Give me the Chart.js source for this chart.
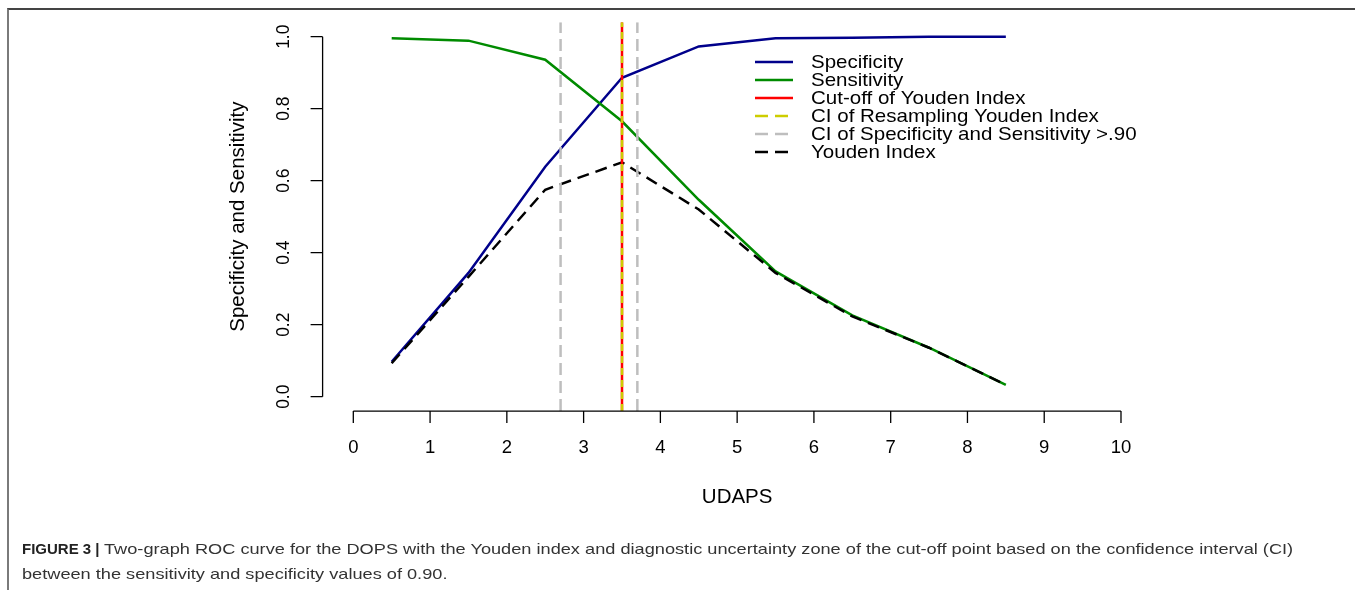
<!DOCTYPE html>
<html>
<head>
<meta charset="utf-8">
<script src="https://cdn.jsdelivr.net/npm/chart.js@4"></script>
<style>
  html, body { margin: 0; padding: 0; background: #fff; }
  #wrap { position: relative; width: 1355px; height: 590px; overflow: hidden; }
  #frame { position: absolute; left: 7px; top: 8px; right: -5px; bottom: -5px;
    border-top: 2px solid #444; border-left: 2px solid #7a7a7a; }
  #chart { position: absolute; left: 0; top: 0; }
  #caption { position: absolute; left: 22px; top: 536px; width: 1330px;
    font-family: "Liberation Sans", Arial, sans-serif; font-size: 15px; line-height: 25px; color: #333; }
  #caption div { white-space: nowrap; }
  #caption b { color: #222; }
  #caption .wide { display: inline-block; transform: scaleX(1.212); transform-origin: 0 50%; }
</style>
</head>
<body>
<div id="wrap">
  <div id="frame"></div>
  <canvas id="chart" width="1355" height="590"></canvas>
  <div id="caption">
    <div><b>FIGURE 3 |</b> <span class="wide">Two-graph ROC curve for the DOPS with the Youden index and diagnostic uncertainty zone of the cut-off point based on the confidence interval (CI)</span></div>
    <div><span class="wide">between the sensitivity and specificity values of 0.90.</span></div>
  </div>
</div>
<script>
// values
const udaps = [0.5, 1.5, 2.5, 3.5, 4.5, 5.5, 6.5, 7.5, 8.5];
const specificity = [0.097, 0.344, 0.639, 0.886, 0.973, 0.996, 0.997, 1.0, 1.0];
const sensitivity = [0.996, 0.989, 0.936, 0.765, 0.547, 0.348, 0.226, 0.136, 0.033];
const youden = [0.093, 0.333, 0.575, 0.651, 0.520, 0.344, 0.223, 0.136, 0.033];
const cutoff = 3.5;
const ciResampling = [3.5];
const ciSpecSens = [2.7, 3.7];
const xTicks = [0, 1, 2, 3, 4, 5, 6, 7, 8, 9, 10];
const yTicks = [0, 0.2, 0.4, 0.6, 0.8, 1.0];
const yTickLabels = ["0.0", "0.2", "0.4", "0.6", "0.8", "1.0"];

const FONT = '"Liberation Sans", Arial, sans-serif';
const yLo = -0.04, yHi = 1.04;

function pts(ys) {
  return udaps.map((x, i) => ({ x: x, y: ys[i] }));
}
function vlines(xs) {
  const out = [];
  xs.forEach((x, i) => {
    if (i > 0) out.push({ x: x - 0.01, y: null });
    out.push({ x: x, y: yLo }, { x: x, y: yHi });
  });
  return out;
}

const legendItems = [
  { label: "Specificity", color: "#00008B", dash: [] },
  { label: "Sensitivity", color: "#008B00", dash: [] },
  { label: "Cut-off of Youden Index", color: "#FF0000", dash: [] },
  { label: "CI of Resampling Youden Index", color: "#CDCD00", dash: [13, 7] },
  { label: "CI of Specificity and Sensitivity >.90", color: "#BEBEBE", dash: [13, 7] },
  { label: "Youden Index", color: "#000000", dash: [13, 7] }
];

// text stretched sideways a little, like the picture
function wideText(ctx, s, x, y, sx) {
  ctx.save();
  ctx.translate(x, y);
  ctx.scale(sx, 1);
  ctx.fillText(s, 0, 0);
  ctx.restore();
}
function upText(ctx, s, x, y) {
  ctx.save();
  ctx.translate(x, y);
  ctx.rotate(-Math.PI / 2);
  ctx.fillText(s, 0, 0);
  ctx.restore();
}

const rAxes = {
  id: "rAxes",
  afterDraw(chart) {
    const ctx = chart.ctx;
    const xs = chart.scales.x, ys = chart.scales.y;
    const ca = chart.chartArea;
    ctx.save();
    ctx.strokeStyle = "#000";
    ctx.fillStyle = "#000";
    ctx.lineWidth = 1.3;

    // x axis
    const xb = ca.bottom;
    ctx.beginPath();
    ctx.moveTo(xs.getPixelForValue(xTicks[0]), xb);
    ctx.lineTo(xs.getPixelForValue(xTicks[xTicks.length - 1]), xb);
    xTicks.forEach(t => {
      const px = xs.getPixelForValue(t);
      ctx.moveTo(px, xb);
      ctx.lineTo(px, xb + 12);
    });
    ctx.stroke();
    ctx.textAlign = "center";
    ctx.textBaseline = "middle";
    ctx.font = "18.5px " + FONT;
    xTicks.forEach(t => ctx.fillText(String(t), xs.getPixelForValue(t), xb + 37));
    ctx.font = "20.5px " + FONT;
    ctx.fillText("UDAPS", (ca.left + ca.right) / 2, xb + 86);

    // y axis
    const yl = ca.left;
    ctx.beginPath();
    ctx.moveTo(yl, ys.getPixelForValue(yTicks[0]));
    ctx.lineTo(yl, ys.getPixelForValue(yTicks[yTicks.length - 1]));
    yTicks.forEach(t => {
      const py = ys.getPixelForValue(t);
      ctx.moveTo(yl, py);
      ctx.lineTo(yl - 12, py);
    });
    ctx.stroke();
    ctx.font = "17.5px " + FONT;
    yTicks.forEach((t, i) => upText(ctx, yTickLabels[i], yl - 38, ys.getPixelForValue(t)));
    ctx.font = "20.5px " + FONT;
    upText(ctx, "Specificity and Sensitivity", yl - 84, (ca.top + ca.bottom) / 2);

    // legend
    const lx = 755, ly = 62, step = 18;
    ctx.textAlign = "left";
    ctx.font = "19px " + FONT;
    legendItems.forEach((it, i) => {
      const y = ly + i * step;
      ctx.beginPath();
      ctx.setLineDash(it.dash);
      ctx.strokeStyle = it.color;
      ctx.lineWidth = 2.5;
      ctx.moveTo(lx, y);
      ctx.lineTo(lx + 38, y);
      ctx.stroke();
      ctx.setLineDash([]);
      ctx.fillStyle = "#000";
      wideText(ctx, it.label, lx + 56, y + 1, 1.08);
    });
    ctx.restore();
  }
};

const base = { pointRadius: 0, pointHoverRadius: 0, borderWidth: 2.5, tension: 0, fill: false, spanGaps: false };

new Chart(document.getElementById("chart"), {
  type: "line",
  data: {
    datasets: [
      Object.assign({}, base, { label: "CI of Resampling Youden Index", data: vlines(ciResampling), borderColor: "#CDCD00", borderDash: [7, 5], order: 0 }),
      Object.assign({}, base, { label: "Cut-off of Youden Index", data: vlines([cutoff]), borderColor: "#FF0000", order: 1 }),
      Object.assign({}, base, { label: "CI of Specificity and Sensitivity >.90", data: vlines(ciSpecSens), borderColor: "#BEBEBE", borderDash: [12, 6], order: 2 }),
      Object.assign({}, base, { label: "Youden Index", data: pts(youden), borderColor: "#000000", borderDash: [12, 7], order: 3 }),
      Object.assign({}, base, { label: "Sensitivity", data: pts(sensitivity), borderColor: "#008B00", order: 4 }),
      Object.assign({}, base, { label: "Specificity", data: pts(specificity), borderColor: "#00008B", order: 5 })
    ]
  },
  options: {
    responsive: false,
    animation: false,
    devicePixelRatio: 1,
    layout: { padding: { left: 322.6, top: 22.3, right: 203.3, bottom: 178.9 } },
    scales: {
      x: { type: "linear", min: -0.4, max: 10.4, display: false },
      y: { type: "linear", min: yLo, max: yHi, display: false }
    },
    plugins: { legend: { display: false }, tooltip: { enabled: false }, title: { display: false } }
  },
  plugins: [rAxes]
});
</script>
</body>
</html>
